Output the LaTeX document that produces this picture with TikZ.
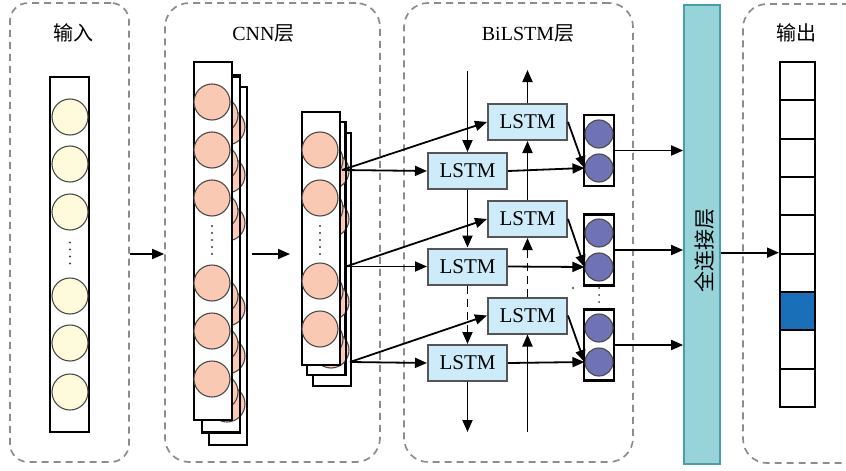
\documentclass[tikz,border=0pt]{standalone}
\usepackage{fontspec}
\setmainfont{Liberation Serif}
\newfontfamily\cjk{Noto Sans CJK SC}
\usetikzlibrary{arrows.meta}
\definecolor{panelgray}{HTML}{8C8C8C}
\definecolor{circedge}{HTML}{4A4A4A}
\definecolor{peach}{HTML}{F9C9B4}
\definecolor{cream}{HTML}{FDFBDC}
\definecolor{slate}{HTML}{7072B6}
\definecolor{lstmfill}{HTML}{CDEBF8}
\definecolor{lstmedge}{HTML}{555555}
\definecolor{fcfill}{HTML}{96D4DA}
\definecolor{fcedge}{HTML}{4A9FA6}
\definecolor{outblue}{HTML}{1A70B8}
\definecolor{dotcol}{HTML}{5A2D4A}
\begin{document}
\begin{tikzpicture}[x=1pt,y=-1pt,
  panel/.style={draw=panelgray, dash pattern=on 7pt off 5pt, line width=1.7pt,
    rounded corners=24pt, inner sep=0pt},
  title/.style={font=\fontsize{20}{24}\selectfont, inner sep=0pt},
  layer/.style={draw=black, fill=white, line width=2.1pt},
  layeredge/.style={draw=black, line width=2.1pt},
  pinkc/.style={circle, draw=circedge, fill=peach, line width=1.1pt, minimum size=36pt, inner sep=0pt},
  yellowc/.style={circle, draw=circedge, fill=cream, line width=1.1pt, minimum size=36pt, inner sep=0pt},
  bluec/.style={circle, draw=circedge, fill=slate, line width=1.1pt, minimum size=28pt, inner sep=0pt},
  pairbox/.style={draw=black, fill=white, line width=2.1pt, minimum width=30pt, minimum height=71pt, inner sep=0pt},
  lstm/.style={draw=lstmedge, fill=lstmfill, line width=2pt, minimum width=79pt, minimum height=36pt,
    inner sep=0pt, font=\fontsize{21}{24}\selectfont},
  cell/.style={draw=black, fill=white, line width=2pt, minimum width=35pt, minimum height=38.33pt, inner sep=0pt},
  arr/.style={-{Triangle[length=12pt,width=10pt]}, line width=1.8pt},
  dots/.style={draw=dotcol, line width=2.4pt, line cap=round, dash pattern=on 0pt off 7pt}
]
\useasboundingbox (0,0) rectangle (846,471);

% ---- dashed group frames and titles
\node[panel, rounded corners=18pt, minimum width=119pt, minimum height=459pt] (pin) at (69.5,232.5) {};
\node[panel, minimum width=215pt, minimum height=459pt] (pcnn) at (272.5,232.5) {};
\node[panel, minimum width=229pt, minimum height=459pt] (plstm) at (518.5,232.5) {};
\node[panel, minimum width=130pt, minimum height=459pt] (pout) at (808,233.5) {};
\node[title] (tin) at (73,33) {\cjk 输入};
\node[title] (tcnn) at (263.5,33) {CNN{\cjk 层}};
\node[title] (tlstm) at (528,33) {BiLSTM{\cjk 层}};
\node[title] (tout) at (796,33) {\cjk 输出};

% ---- input column
\draw[layer] (50,77) rectangle (89,432);
\foreach \cy [count=\k] in {117,164,212,296,343,392}
  \node[yellowc] (x\k) at (70,\cy) {};
\draw[dots] (70,242.5) -- (70,270);

% ---- first convolution stack
\foreach \dx/\dy in {15/25,8/13}
  \draw[layer] (194+\dx,62+\dy) rectangle (232+\dx,420+\dy);
\foreach \dx/\dy in {15/25,8/13}
  \foreach \cy in {102,150,198,283,331,379}
    \node[pinkc] at (212+\dx,\cy+\dy) {};
\draw[layeredge] (202,77) rectangle (240,432);
\draw[layer] (194,62) rectangle (232,420);
\foreach \cy [count=\k] in {102,150,198,283,331,379}
  \node[pinkc] (ca\k) at (212,\cy) {};
\draw[dots] (212,226) -- (212,255);

% ---- second convolution stack
\foreach \dx/\dy in {11/21,5/10}
  \draw[layer] (302+\dx,112+\dy) rectangle (340+\dx,365+\dy);
\foreach \dx/\dy in {11/21,5/10}
  \foreach \cy in {150,198,281,329}
    \node[pinkc] at (320+\dx,\cy+\dy) {};
\draw[layeredge] (307,122) rectangle (346,375);
\draw[layer] (302,112) rectangle (340,365);
\foreach \cy [count=\k] in {150,198,281,329}
  \node[pinkc] (cb\k) at (320,\cy) {};
\draw[dots] (320,226) -- (320,255);

% ---- arrows between the first groups
\coordinate (ga) at (252,254);
\coordinate (gb) at (290,254);
\draw[arr] (pin.east |- ga) -- (pcnn.west |- ga);
\draw[arr] (ga) -- (gb);

% ---- BiLSTM cells
\node[lstm] (b1) at (527.5,122) {LSTM};
\node[lstm] (f1) at (467.5,171) {LSTM};
\node[lstm] (b2) at (527.5,219) {LSTM};
\node[lstm] (f2) at (467.5,266.5) {LSTM};
\node[lstm] (b3) at (527.5,315.5) {LSTM};
\node[lstm] (f3) at (467.5,363) {LSTM};

% forward and backward chains
\coordinate (ftop) at (467.5,71);
\coordinate (fbot) at (467.5,432);
\coordinate (bbot) at (527.5,432);
\coordinate (btop) at (527.5,70);
\draw[arr] (ftop) -- (f1.north);
\draw[arr] (f1.south) -- (f2.north);
\draw[arr, dash pattern=on 8pt off 5pt] (f2.south) -- (f3.north);
\draw[arr] (f3.south) -- (fbot);
\draw[arr] (bbot) -- (b3.south);
\draw[arr, dash pattern=on 8pt off 5pt] (b3.north) -- (b2.south);
\draw[arr] (b2.north) -- (b1.south);
\draw[arr] (b1.north) -- (btop);

% ---- concatenated outputs
\foreach \r/\cy/\ya/\yb in {1/150.5/134/168, 2/250/233/267, 3/345/328/362}{
  \node[pairbox] (p\r) at (599,\cy) {};
  \node[bluec] (pa\r) at (599,\ya) {};
  \node[bluec] (pb\r) at (599,\yb) {};
}
\draw[dots, line width=2pt, dash pattern=on 0pt off 7pt] (599,288) -- (599,303);
\fill[dotcol] (573,288) circle (1.1pt);

% ---- fully connected layer
\node[draw=fcedge, fill=fcfill, line width=1.7pt, minimum width=36pt, minimum height=459pt, inner sep=0pt]
  (fc) at (702,234.5) {};
\node[rotate=90, font=\cjk\fontsize{21}{24}\selectfont, inner sep=0pt] (fct) at (704,250) {全连接层};

% ---- feature inputs to the BiLSTM
\coordinate (s1) at (342,170);
\coordinate (s2) at (346,266.5);
\coordinate (s3) at (350,362);
\foreach \r in {1,2,3}{
  \draw[arr] (s\r) -- (f\r.west);
  \draw[arr] (s\r) -- (b\r.west);
  \draw[arr] (f\r.east) -- (pb\r.west);
  \draw[arr] (b\r.east) -- (pb\r.west);
  \draw[arr] (p\r.east) -- (p\r.east -| fc.west);
}

% ---- output column
\foreach \i in {1,...,9}
  \node[cell] (o\i) at (797.5,{62+38.33*(\i-0.5)}) {};
\node[cell, fill=outblue] at (o7) {};
\draw[arr] (fc.east |- o6.north west) -- (o6.north west);
\end{tikzpicture}
\end{document}
